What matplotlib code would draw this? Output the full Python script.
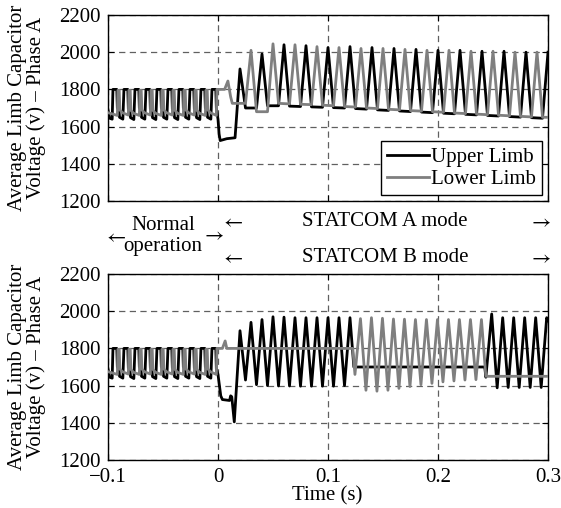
import matplotlib
matplotlib.use("Agg")
import matplotlib.pyplot as plt

# ---------------- data ----------------
x_ticks = [-0.1, 0.0, 0.1, 0.2, 0.3]
x_tick_labels = ["\u22120.1", "0", "0.1", "0.2", "0.3"]
y_ticks = [1200, 1400, 1600, 1800, 2000, 2200]
series_names = ["Upper Limb", "Lower Limb"]

# normal operation (both panels), upper limb
upper_normal_t = [-0.100, -0.0985, -0.0962,
                  -0.0955, -0.0920, -0.0915, -0.0900, -0.0895, -0.0865,
                  -0.0855, -0.0820, -0.0815, -0.0800, -0.0795, -0.0765,
                  -0.0755, -0.0720, -0.0715, -0.0700, -0.0695, -0.0665,
                  -0.0655, -0.0620, -0.0615, -0.0600, -0.0595, -0.0565,
                  -0.0555, -0.0520, -0.0515, -0.0500, -0.0495, -0.0465,
                  -0.0455, -0.0420, -0.0415, -0.0400, -0.0395, -0.0365,
                  -0.0355, -0.0320, -0.0315, -0.0300, -0.0295, -0.0265,
                  -0.0255, -0.0220, -0.0215, -0.0200, -0.0195, -0.0165,
                  -0.0155, -0.0120, -0.0115, -0.0100, -0.0095, -0.0065,
                  -0.0055, -0.0020]
upper_normal_v = [1690, 1645, 1640,
                  1800, 1800, 1700, 1685, 1650, 1640,
                  1800, 1800, 1695, 1680, 1648, 1638,
                  1800, 1800, 1700, 1685, 1650, 1640,
                  1800, 1800, 1695, 1680, 1648, 1638,
                  1800, 1800, 1700, 1685, 1650, 1640,
                  1800, 1800, 1695, 1680, 1648, 1638,
                  1800, 1800, 1700, 1685, 1650, 1640,
                  1800, 1800, 1695, 1680, 1648, 1638,
                  1800, 1800, 1700, 1685, 1650, 1640,
                  1800, 1800]

# normal operation (both panels), lower limb
lower_normal_t = [-0.100,
                  -0.0915, -0.0910, -0.0898, -0.0892, -0.0870,
                  -0.0815, -0.0810, -0.0798, -0.0792, -0.0770,
                  -0.0715, -0.0710, -0.0698, -0.0692, -0.0670,
                  -0.0615, -0.0610, -0.0598, -0.0592, -0.0570,
                  -0.0515, -0.0510, -0.0498, -0.0492, -0.0470,
                  -0.0415, -0.0410, -0.0398, -0.0392, -0.0370,
                  -0.0315, -0.0310, -0.0298, -0.0292, -0.0270,
                  -0.0215, -0.0210, -0.0198, -0.0192, -0.0170,
                  -0.0115, -0.0110, -0.0098, -0.0092, -0.0070,
                  -0.0015, -0.0010]
lower_normal_v = [1675,
                  1660, 1795, 1795, 1690, 1675,
                  1662, 1795, 1795, 1688, 1672,
                  1660, 1795, 1795, 1690, 1675,
                  1662, 1795, 1795, 1688, 1672,
                  1660, 1795, 1795, 1690, 1675,
                  1662, 1795, 1795, 1688, 1672,
                  1660, 1795, 1795, 1690, 1675,
                  1662, 1795, 1795, 1688, 1672,
                  1660, 1795, 1795, 1690, 1675,
                  1660, 1800]

# STATCOM A mode (top panel), upper limb
upper_a_t = [-0.0015, 0.000, 0.001, 0.002, 0.008, 0.0155,
             0.020, 0.025, 0.035, 0.040, 0.045, 0.055, 0.060, 0.065, 0.075,
             0.080, 0.085, 0.095, 0.100, 0.105, 0.115, 0.120, 0.125, 0.135,
             0.140, 0.145, 0.155, 0.160, 0.165, 0.175, 0.180, 0.185, 0.195,
             0.200, 0.205, 0.215, 0.220, 0.225, 0.235, 0.240, 0.245, 0.255,
             0.260, 0.265, 0.275, 0.280, 0.285, 0.295, 0.300]
upper_a_v = [1700, 1640, 1560, 1525, 1535, 1540,
             1910, 1700, 1700, 1990, 1712, 1712, 2040, 1710, 1708,
             2035, 1706, 1704, 2025, 1702, 1700, 2030, 1697, 1694,
             2025, 1690, 1687, 2020, 1684, 1681, 2015, 1678, 1675,
             2010, 1672, 1669, 2010, 1666, 1663, 2005, 1660, 1657,
             2005, 1654, 1651, 2000, 1648, 1645, 2000]

# STATCOM A mode (top panel), lower limb
lower_a_t = [0.006, 0.009, 0.0115, 0.013, 0.025,
             0.030, 0.035, 0.045, 0.050, 0.055, 0.065, 0.070, 0.075, 0.085,
             0.090, 0.095, 0.105, 0.110, 0.115, 0.125, 0.130, 0.135, 0.145,
             0.150, 0.155, 0.165, 0.170, 0.175, 0.185, 0.190, 0.195, 0.205,
             0.210, 0.215, 0.225, 0.230, 0.235, 0.245, 0.250, 0.255, 0.265,
             0.270, 0.275, 0.285, 0.290, 0.295, 0.300]
lower_a_v = [1800, 1845, 1760, 1725, 1725,
             2010, 1680, 1680, 2045, 1725, 1722, 2040, 1720, 1718,
             2030, 1715, 1712, 2025, 1708, 1705, 2020, 1700, 1697,
             2020, 1693, 1690, 2015, 1686, 1683, 2010, 1680, 1677,
             2010, 1673, 1670, 2005, 1667, 1664, 2005, 1661, 1658,
             2000, 1655, 1652, 2000, 1650, 1650]

# STATCOM B mode (bottom panel), upper limb
upper_b_t = [-0.0015, 0.000, 0.0025, 0.004, 0.0105, 0.0115, 0.0125, 0.0148,
             0.020, 0.025, 0.030, 0.035, 0.040, 0.045, 0.050, 0.055, 0.060,
             0.065, 0.070, 0.075, 0.080, 0.085, 0.090, 0.095, 0.100, 0.105,
             0.110, 0.115, 0.120, 0.1235, 0.2425, 0.2435,
             0.2488, 0.2538, 0.2588, 0.2638, 0.2688, 0.2738, 0.2788, 0.2838,
             0.2888, 0.2938, 0.2988, 0.300]
upper_b_v = [1690, 1660, 1545, 1525, 1520, 1545, 1540, 1405,
             1895, 1630, 1940, 1605, 1955, 1600, 1970, 1598, 1968,
             1598, 1965, 1597, 1965, 1597, 1965, 1597, 1965, 1597,
             1965, 1600, 1965, 1700, 1700, 1645,
             1985, 1588, 1965, 1590, 1965, 1590, 1965, 1590,
             1965, 1590, 1965, 1950]

# STATCOM B mode (bottom panel), lower limb
lower_b_t = [0.004, 0.0065, 0.008, 0.1225, 0.1245,
             0.1295, 0.1345, 0.1395, 0.1445, 0.1495, 0.1545, 0.1595, 0.1645,
             0.1695, 0.1745, 0.1795, 0.1845, 0.1895, 0.1945, 0.1995, 0.2045,
             0.2095, 0.2145, 0.2195, 0.2245, 0.2295, 0.2345, 0.2395, 0.2435,
             0.300]
lower_b_v = [1800, 1840, 1800, 1800, 1660,
             1960, 1575, 1965, 1570, 1962, 1575, 1958, 1585,
             1957, 1595, 1955, 1605, 1955, 1612, 1955, 1620,
             1955, 1625, 1955, 1630, 1955, 1632, 1955, 1650,
             1650]

ylabel_text = "Average Limb Capacitor\nVoltage (v) \u2013 Phase A"

# ---------------- styling ----------------
plt.rcParams['font.family'] = ['Liberation Serif', 'DejaVu Serif']
plt.rcParams['mathtext.fontset'] = 'stix'
FS = 15
W, H = 561, 508
C_UP = '#000000'
C_LO = '#7f7f7f'
LW = 2.0
LARR = r"$\leftarrow$"
RARR = r"$\rightarrow$"

fig = plt.figure(figsize=(W / 100, H / 100), dpi=100)

def fx(px):
    return px / W

def fy(py):
    return 1 - py / H

ax_l, ax_r = 108, 548
top_t, top_b = 15, 201
bot_t, bot_b = 274, 460

ax1 = fig.add_axes([fx(ax_l), fy(top_b), (ax_r - ax_l) / W, (top_b - top_t) / H])
ax2 = fig.add_axes([fx(ax_l), fy(bot_b), (ax_r - ax_l) / W, (bot_b - bot_t) / H])

top_upper = (upper_normal_t + upper_a_t, upper_normal_v + upper_a_v)
top_lower = (lower_normal_t + lower_a_t, lower_normal_v + lower_a_v)
bot_upper = (upper_normal_t + upper_b_t, upper_normal_v + upper_b_v)
bot_lower = (lower_normal_t + lower_b_t, lower_normal_v + lower_b_v)

for ax, up, lo in [(ax1, top_upper, top_lower), (ax2, bot_upper, bot_lower)]:
    ax.plot(up[0], up[1], color=C_UP, lw=LW, label=series_names[0],
            solid_joinstyle='round', zorder=3)
    ax.plot(lo[0], lo[1], color=C_LO, lw=LW, label=series_names[1],
            solid_joinstyle='round', zorder=3)
    ax.set_xlim(-0.1, 0.3)
    ax.set_ylim(1200, 2200)
    ax.set_xticks(x_ticks)
    ax.set_yticks(y_ticks)
    ax.set_yticklabels([str(v) for v in y_ticks], fontsize=FS)
    ax.grid(True, color='#606060', linestyle=(0, (5, 3.5)), linewidth=0.9, zorder=1)
    ax.tick_params(direction='in', length=4, top=True, right=True, width=0.8,
                   pad=5, labelsize=FS)
    for s in ax.spines.values():
        s.set_linewidth(1.0)
        s.set_color('black')

ax1.set_xticklabels([])
ax2.set_xticklabels(x_tick_labels, fontsize=FS)
ax2.tick_params(axis='x', pad=6)

leg = ax1.legend(loc='lower right', fontsize=FS, frameon=True, fancybox=False,
                 edgecolor='black', framealpha=1, handlelength=2.0,
                 handletextpad=0.1, borderpad=0.28, labelspacing=0.12,
                 borderaxespad=0.3)
leg.get_frame().set_linewidth(1.0)

# y labels
for yc in [(top_t + top_b) / 2, (bot_t + bot_b) / 2]:
    fig.text(fx(27), fy(yc), ylabel_text, rotation=90, ha='center', va='center',
             fontsize=FS, linespacing=0.95)

# x label
fig.text(fx(327), fy(496), "Time (s)", ha='center', va='center', fontsize=FS)

# mode annotations
fig.text(fx(163), fy(225), "Normal", ha='center', va='center', fontsize=FS)
fig.text(fx(163), fy(247), "operation", ha='center', va='center', fontsize=FS)
fig.text(fx(114), fy(238), LARR, ha='center', va='center', fontsize=FS)
fig.text(fx(212), fy(236), RARR, ha='center', va='center', fontsize=FS)

fig.text(fx(231), fy(223), LARR, ha='center', va='center', fontsize=FS)
fig.text(fx(385), fy(222), "STATCOM A mode", ha='center', va='center', fontsize=FS)
fig.text(fx(539), fy(223), RARR, ha='center', va='center', fontsize=FS)

fig.text(fx(231), fy(259), LARR, ha='center', va='center', fontsize=FS)
fig.text(fx(385), fy(257), "STATCOM B mode", ha='center', va='center', fontsize=FS)
fig.text(fx(539), fy(259), RARR, ha='center', va='center', fontsize=FS)

fig.savefig("out.png", dpi=100)
